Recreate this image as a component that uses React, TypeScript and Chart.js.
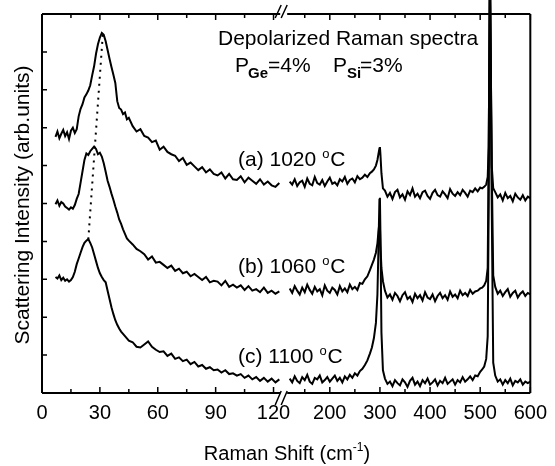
import React, { useEffect, useRef } from 'react';
import { Chart, registerables } from 'chart.js';
Chart.register(...registerables);

const FONT = '"Liberation Sans", Arial, Helvetica, sans-serif';

// ---- left segment (0-125 cm-1) ----
const xLeft = [7,8,9,10,11,12,13,14,15,16,17,18,19,20,21,22,23,24,25,26,27,28,29,30,31,32,33,34,35,36,37,38,39,40,41,42,43,44,45,47,49,51,53,55,57,59,61,63,65,67,69,71,73,75,77,79,81,83,85,87,89,91,93,95,97,99,101,103,105,107,109,111,113,115,117,119,121,123];
const aLeft = [6.76,6.90,6.72,6.84,6.94,6.78,6.88,6.70,6.92,7.00,6.86,6.96,
  7.30,7.50,7.62,7.80,7.88,7.98,8.12,8.38,8.62,8.95,9.20,9.38,9.50,9.45,9.28,9.05,8.82,8.60,8.40,8.18,7.70,7.52,7.48,7.36,7.40,7.22,7.26,
  7.04,6.90,6.96,6.78,6.74,6.62,6.66,6.42,6.50,6.36,6.30,6.26,6.12,6.20,6.02,6.08,5.98,5.88,5.96,5.82,5.90,5.78,5.74,5.82,5.66,5.78,5.64,5.62,5.72,5.56,5.68,5.60,5.52,5.64,5.50,5.58,5.48,5.44,5.54];
const bLeft = [4.98,5.08,4.94,5.04,5.00,4.92,4.88,4.84,4.90,4.86,4.96,5.12,
  5.25,5.55,5.85,6.15,6.32,6.28,6.38,6.44,6.50,6.44,6.30,6.34,6.24,6.06,5.84,5.60,5.44,5.26,5.10,4.92,4.76,4.58,4.46,4.32,4.20,4.08,4.02,
  3.92,3.80,3.74,3.66,3.52,3.60,3.44,3.46,3.38,3.30,3.36,3.22,3.28,3.16,3.20,3.08,3.14,3.06,2.98,3.06,2.92,2.96,2.94,2.84,2.96,2.80,2.86,2.78,2.84,2.72,2.82,2.70,2.74,2.66,2.78,2.64,2.70,2.62,2.68];
const cLeft = [3.06,3.02,3.10,2.98,3.04,2.96,3.00,2.94,2.98,3.06,3.20,3.40,
  3.55,3.70,3.85,3.96,4.02,4.06,3.96,3.84,3.66,3.48,3.30,3.16,3.06,2.98,2.92,2.70,2.48,2.26,2.08,1.92,1.80,1.70,1.62,1.56,1.50,1.44,1.38,
  1.34,1.22,1.20,1.28,1.36,1.22,1.14,1.08,1.10,0.98,1.04,0.90,0.94,0.84,0.88,0.76,0.82,0.70,0.74,0.64,0.68,0.60,0.62,0.54,0.60,0.50,0.52,0.46,0.50,0.40,0.46,0.36,0.42,0.32,0.40,0.30,0.38,0.28,0.36];

// ---- right segment (107-600 cm-1) ----
const xRight = [120,125,130,135,140,145,150,155,160,165,170,175,180,185,190,195,200,205,210,215,220,225,230,235,240,245,250,255,260,265,270,275,280,
  284,288,292,295,297,299,300,301,303,306,
  310,315,320,325,330,335,340,345,350,355,360,365,370,375,380,385,390,395,400,405,410,415,420,425,430,435,440,445,450,455,460,465,470,475,480,485,490,495,500,
  504,508,512,515,517,519,520,521,523,526,
  530,535,540,545,550,555,560,565,570,575,580,585,590,595,600];
const aRight = [5.58,5.50,5.64,5.46,5.56,5.60,5.44,5.66,5.52,5.48,5.70,5.54,5.50,5.62,5.46,5.58,5.68,5.52,5.56,5.48,5.64,5.58,5.70,5.52,5.62,5.66,5.56,5.72,5.64,5.68,5.76,5.70,5.80,
  5.84,5.90,6.00,6.15,6.30,6.45,6.49,6.30,5.80,5.40,
  5.34,5.18,5.28,5.12,5.30,5.36,5.16,5.24,5.10,5.32,5.22,5.40,5.18,5.26,5.14,5.30,5.34,5.20,5.12,5.28,5.36,5.22,5.18,5.32,5.24,5.14,5.38,5.26,5.20,5.30,5.22,5.36,5.28,5.18,5.34,5.30,5.40,5.32,5.42,
  5.40,5.44,5.50,5.70,6.50,10.40,10.40,10.40,6.00,5.40,
  5.30,5.16,5.24,5.08,5.28,5.14,5.20,5.06,5.26,5.16,5.10,5.22,5.08,5.18,5.14];
const bRight = [2.76,2.64,2.82,2.70,2.60,2.78,2.66,2.86,2.72,2.62,2.80,2.68,2.74,2.58,2.84,2.70,2.64,2.78,2.72,2.60,2.82,2.68,2.76,2.66,2.86,2.74,2.80,2.72,2.90,2.88,3.00,3.08,3.24,
  3.38,3.52,3.70,3.95,4.25,4.50,4.40,3.90,3.30,2.95,
  2.70,2.52,2.60,2.46,2.64,2.56,2.42,2.58,2.66,2.48,2.54,2.40,2.62,2.50,2.58,2.44,2.66,2.52,2.48,2.60,2.42,2.56,2.64,2.50,2.58,2.46,2.68,2.54,2.60,2.50,2.70,2.58,2.64,2.56,2.72,2.62,2.68,2.70,2.76,
  2.78,2.84,2.96,3.30,6.50,10.40,10.40,10.40,6.00,3.10,
  2.80,2.62,2.70,2.56,2.66,2.74,2.54,2.64,2.70,2.52,2.62,2.68,2.56,2.64,2.60];
const cRight = [0.38,0.28,0.44,0.32,0.26,0.42,0.34,0.48,0.30,0.24,0.40,0.36,0.46,0.28,0.34,0.42,0.30,0.38,0.46,0.32,0.40,0.28,0.44,0.36,0.48,0.40,0.52,0.46,0.58,0.64,0.74,0.86,1.04,
  1.20,1.45,1.85,2.60,3.80,5.10,5.15,4.20,1.60,0.60,
  0.38,0.24,0.30,0.18,0.34,0.26,0.20,0.36,0.28,0.16,0.32,0.40,0.22,0.30,0.18,0.34,0.26,0.38,0.22,0.28,0.36,0.20,0.32,0.26,0.40,0.24,0.30,0.36,0.22,0.34,0.28,0.42,0.30,0.36,0.44,0.34,0.46,0.44,0.56,
  0.62,0.70,0.90,1.50,5.00,10.40,10.40,10.40,5.00,0.80,
  0.46,0.30,0.36,0.22,0.34,0.26,0.38,0.20,0.32,0.28,0.36,0.22,0.30,0.26,0.30];

// dotted guide through the low-frequency peak maxima
const peakLineX = [31.5, 24.0];
const peakLineY = [9.45, 4.05];

const sampleLabels = ['(a) 1020', '(b) 1060', '(c) 1100'];
const sampleLabelY = [166, 273, 363];

function pts(xs: number[], ys: number[]) {
  return xs.map((x, i) => ({ x, y: ys[i] }));
}

const framePlugin = {
  id: 'framePlugin',
  afterDraw(chart: any) {
    const ctx = chart.ctx;
    const { left, right, top, bottom } = chart.chartArea;
    const xL = chart.scales.xL;
    const xR = chart.scales.xR;
    const y = chart.scales.y;
    const bx = xL.right;
    ctx.save();
    ctx.strokeStyle = '#000';
    ctx.fillStyle = '#000';
    ctx.lineCap = 'butt';
    // frame
    ctx.lineWidth = 2;
    ctx.beginPath();
    ctx.moveTo(left, top); ctx.lineTo(left, bottom);
    ctx.moveTo(right, top); ctx.lineTo(right, bottom);
    ctx.moveTo(left, top); ctx.lineTo(bx - 3, top);
    ctx.moveTo(bx + 4, top); ctx.lineTo(right, top);
    ctx.moveTo(left, bottom); ctx.lineTo(bx - 3, bottom);
    ctx.moveTo(bx + 4, bottom); ctx.lineTo(right, bottom);
    ctx.stroke();
    // break marks
    ctx.lineWidth = 1.5;
    ctx.beginPath();
    ctx.moveTo(bx - 8, top + 4); ctx.lineTo(bx - 2, top - 9);
    ctx.moveTo(bx - 2, top + 4); ctx.lineTo(bx + 4, top - 9);
    ctx.moveTo(bx - 8, bottom + 12); ctx.lineTo(bx - 2, bottom - 2);
    ctx.moveTo(bx - 2, bottom + 12); ctx.lineTo(bx + 4, bottom - 2);
    ctx.stroke();
    // inward ticks
    ctx.lineWidth = 1.5;
    ctx.beginPath();
    xL.ticks.forEach((t: any) => {
      const px = xL.getPixelForValue(t.value);
      const len = t.value % 30 === 0 ? 6 : 4;
      ctx.moveTo(px, bottom); ctx.lineTo(px, bottom - len);
      ctx.moveTo(px, top); ctx.lineTo(px, top + len);
    });
    xR.ticks.forEach((t: any) => {
      const px = xR.getPixelForValue(t.value);
      const len = t.value % 100 === 0 ? 6 : 4;
      ctx.moveTo(px, bottom); ctx.lineTo(px, bottom - len);
      ctx.moveTo(px, top); ctx.lineTo(px, top + len);
    });
    y.ticks.forEach((t: any) => {
      if (t.value <= 0 || t.value >= 10) return;
      const py = y.getPixelForValue(t.value);
      ctx.moveTo(left, py); ctx.lineTo(left + 5, py);
    });
    ctx.stroke();

    // texts
    ctx.textBaseline = 'alphabetic';
    ctx.textAlign = 'left';
    ctx.font = `21px ${FONT}`;
    ctx.fillText('Depolarized Raman spectra', 218, 45);
    // P_Ge=4%  P_Si=3%
    ctx.fillText('P', 235, 72);
    ctx.font = `bold 15px ${FONT}`;
    ctx.fillText('Ge', 248, 78);
    ctx.font = `21px ${FONT}`;
    ctx.fillText('=4%', 268, 72);
    ctx.fillText('P', 333, 72);
    ctx.font = `bold 15px ${FONT}`;
    ctx.fillText('Si', 347, 78);
    ctx.font = `21px ${FONT}`;
    ctx.fillText('=3%', 360, 72);

    // sample labels
    sampleLabels.forEach((lab, i) => {
      const by = sampleLabelY[i];
      ctx.font = `21px ${FONT}`;
      ctx.fillText(lab, 238, by);
      const w = ctx.measureText(lab).width;
      ctx.font = `13px ${FONT}`;
      ctx.fillText('o', 238 + w + 6, by - 8);
      ctx.font = `21px ${FONT}`;
      ctx.fillText('C', 238 + w + 14, by);
    });

    // x title with superscript
    const t1 = 'Raman Shift (cm';
    const t2 = '-1';
    const t3 = ')';
    ctx.font = `20px ${FONT}`;
    const w1 = ctx.measureText(t1).width;
    const w3 = ctx.measureText(t3).width;
    ctx.font = `12px ${FONT}`;
    const w2 = ctx.measureText(t2).width;
    const total = w1 + w2 + w3;
    const sx = 287 - total / 2;
    ctx.font = `20px ${FONT}`;
    ctx.fillText(t1, sx, 460);
    ctx.font = `12px ${FONT}`;
    ctx.fillText(t2, sx + w1, 451);
    ctx.font = `20px ${FONT}`;
    ctx.fillText(t3, sx + w1 + w2, 460);

    // y title
    ctx.save();
    ctx.translate(28.5, 205);
    ctx.rotate(-Math.PI / 2);
    ctx.textAlign = 'center';
    ctx.font = `21px ${FONT}`;
    ctx.fillText('Scattering Intensity (arb.units)', 0, 0);
    ctx.restore();

    ctx.restore();
  },
};

export default function App() {
  const ref = useRef<HTMLCanvasElement | null>(null);
  useEffect(() => {
    document.body.style.margin = '0';
    const canvas = ref.current;
    if (!canvas) return;
    const line = (data: any[], axis: string, extra: any = {}) => ({
      data,
      xAxisID: axis,
      yAxisID: 'y',
      borderColor: '#000',
      backgroundColor: '#000',
      borderWidth: 2,
      pointRadius: 0,
      tension: 0,
      fill: false,
      ...extra,
    });
    const tickFont = { family: FONT, size: 20 };
    const chart = new Chart(canvas, {
      type: 'line',
      data: {
        datasets: [
          line(pts(xLeft, aLeft), 'xL'),
          line(pts(xLeft, bLeft), 'xL'),
          line(pts(xLeft, cLeft), 'xL'),
          line(pts(xRight, aRight), 'xR', { clip: false }),
          line(pts(xRight, bRight), 'xR', { clip: false }),
          line(pts(xRight, cRight), 'xR', { clip: false }),
          line(pts(peakLineX, peakLineY), 'xL', { borderDash: [2, 5], borderWidth: 2 }),
        ],
      },
      options: {
        responsive: false,
        animation: false,
        events: [],
        layout: { padding: { top: 14, right: 21, left: 0, bottom: 0 } },
        plugins: { legend: { display: false }, tooltip: { enabled: false } },
        scales: {
          xL: {
            type: 'linear',
            position: 'bottom',
            stack: 'x',
            stackWeight: 243,
            min: 0,
            max: 125,
            grid: { display: false, drawTicks: false },
            border: { display: false },
            ticks: {
              stepSize: 15,
              includeBounds: false,
              autoSkip: false,
              maxRotation: 0,
              minRotation: 0,
              color: '#000',
              font: tickFont,
              padding: 8,
              callback: (v: any) => (Number(v) % 30 === 0 ? String(v) : ''),
            },
            afterFit: (s: any) => { s.height = 73; },
          },
          xR: {
            type: 'linear',
            position: 'bottom',
            stack: 'x',
            stackWeight: 249,
            min: 107,
            max: 600,
            grid: { display: false, drawTicks: false },
            border: { display: false },
            ticks: {
              stepSize: 50,
              includeBounds: false,
              autoSkip: false,
              maxRotation: 0,
              minRotation: 0,
              color: '#000',
              font: tickFont,
              padding: 8,
              callback: (v: any) => (Number(v) % 100 === 0 ? String(v) : ''),
            },
            afterFit: (s: any) => { s.height = 73; },
          },
          y: {
            type: 'linear',
            position: 'left',
            min: 0,
            max: 10,
            grid: { display: false, drawTicks: false },
            border: { display: false },
            ticks: { display: false, stepSize: 1 },
            afterFit: (s: any) => { s.width = 42; },
          },
        },
      } as any,
      plugins: [framePlugin],
    });
    return () => chart.destroy();
  }, []);
  return (
    <div style={{ position: 'absolute', left: 0, top: 0, width: 555, height: 466 }}>
      <canvas ref={ref} width={555} height={466} style={{ display: 'block' }} />
    </div>
  );
}
